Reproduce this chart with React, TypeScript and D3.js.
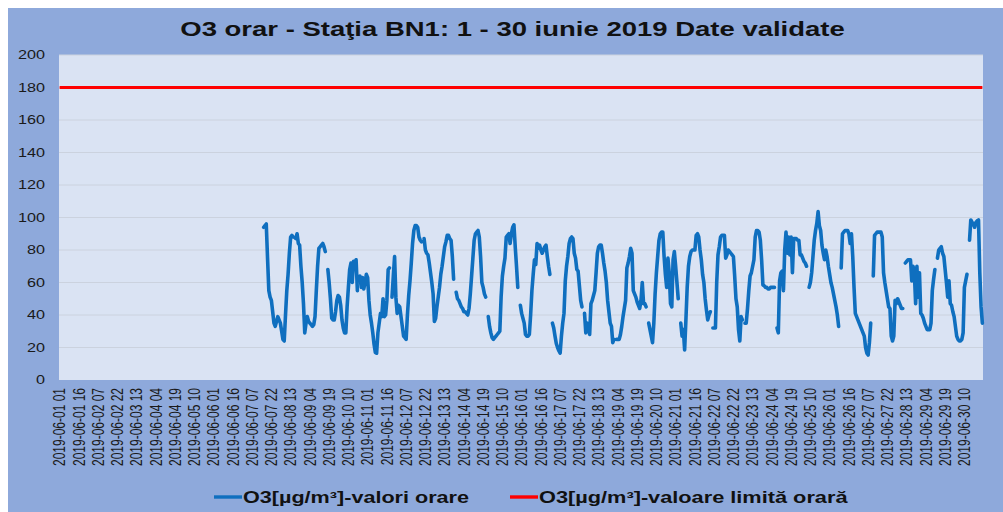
import React from "react";
import * as d3 from "d3";

const W = 1003;
const H = 512;

const TITLE = "O3 orar - Staţia BN1: 1 - 30 iunie 2019 Date validate";
const SERIES_NAME = "O3[µg/m³]-valori orare";
const LIMIT_NAME = "O3[µg/m³]-valoare limită orară";
const LIMIT_VALUE = 180;
const Y_TICKS = [0, 20, 40, 60, 80, 100, 120, 140, 160, 180, 200];
const DAYS = d3.range(1, 31);
const HOURS = d3.range(1, 25);
const LABEL_EVERY = 15;

const categories: string[] = [];
DAYS.forEach((d) =>
  HOURS.forEach((h) =>
    categories.push(`2019-06-${String(d).padStart(2, "0")} ${String(h).padStart(2, "0")}`)
  )
);

const N = null;
// hourly O3 values, one row per day (hours 01..24)
const o3Rows: (number | null)[][] = [
  [N, N, N, N, N, N, N, N, N, N, N, N, N, N, N, N, N, N, N, N, N, N, N, N],
  [N, N, N, N, N, N, N, N, N, N, N, N, N, N, N, N, N, N, N, N, N, N, N, N],
  [N, N, N, N, N, N, N, N, N, N, N, N, N, N, N, N, N, N, N, N, N, N, N, N],
  [N, N, N, N, N, N, N, N, N, N, N, N, N, N, N, N, N, N, N, N, N, N, N, N],
  [N, N, N, N, N, N, N, N, N, N, N, N, N, N, N, N, N, N, N, N, N, N, N, N],
  [N, N, N, N, N, N, N, N, N, N, N, N, N, N, N, N, N, N, N, N, N, N, N, N],
  [N, N, N, N, N, N, N, N, N, N, N, N, N, N, N, 94, 95, 96, 75, 55, 51, 49, 42, 35],
  [33, 36, 39, 37, 35, 30, 25, 24, 40, 55, 65, 78, 88, 89, 88, N, 87, 90, 84, 83, 70, 60, 47, 29],
  [35, 39, 36, 35, 34, 33, 34, 39, 55, 70, 81, 82, 83, 84, 82, 79, N, 68, 60, 50, 38, 37, 37, 42],
  [49, 52, 51, 46, 37, 32, 29, 29, 45, 57, 68, 72, 60, 73, 72, 74, 55, N, 64, 57, 63, 56, 60, 65],
  [63, 49, 40, 35, 29, 22, 17, 16.5, 29, 35, 41, 39, 50, 39, 40, 49, 68, 69, N, 51, 64, 76, 51, 41],
  [46, 45, 39, 33, 27, 26, 25, 40, 52, 61, 72, 84, 92, 95, 95, 94, 88, 86, 85, N, 87, 80, 78, 77],
  [72, 66, 60, 53, 36, 38, 45, 51, 57, 65, 70, 76, 82, 85, 89, 89, 87, 86, 76, 62, N, 54, 50, 49],
  [47, 45, 44, 42, 42, 41, 40, 44, 53, 64, 75, 86, 90, 91, 92, 88, 76, 60, 57, 53, 51, N, 39, 33],
  [29, 26, 25, 26, 27, 28, 29, 30, 51, 64, 70, 75, 88, 89, 90, 84, 90, 94, 95.5, 82, 70, 57, N, 46],
  [41, 38, 35, 28, 27, 27, 28, 40, 55, 65, 74, 71, 84, 81, 83, 80, 78, 80, 82, 83, 76, 70, 65, N],
  [35, 32, 27, 22.5, 20, 18, 16.5, 27, 35, 41, 61, 70, 76, 84, 87, 88, 87, 78, 75, 68, 67, 58, 49, 45],
  [N, 41, 29, 35, 32, 28, 47, 49, 52, 55, 66, 78, 82, 83, 83, 78, 72, 67, 60, 49, 42, 35, 33, 23],
  [25, N, 25, 25, 25, 28, 33, 39, 44, 49, 69, 72, 76, 81, 78, 55, 53, 51, 48, 46, 44, 49, 60, 47],
  [47, 45, N, 35, 31, 27, 23, 35, 53, 66, 76, 86, 90, 91, 91, 76, 65, 57, 75, 66, 47, 45, 74, 79],
  [70, 60, 50, N, 35, 27, 31, 18.5, 37, 57, 70, 76, 79, 80, 80, 80, 89, 90, 88, 80, 74, 65, 60, 50],
  [43, 37, 40, 42, N, 32, 32, 32, 60, 77, 82, 88, 89, 89, 89, 75, 77, 80, 79, 78, 77, 76, 64, 50],
  [45, 31, 24, 39, 37, N, 35, 35, 44, 55, 64, 66, 70, 74, 88, 92, 92, 91, 86, 74, 58.5, 58, 57, 57],
  [56, 56, 57, 57, 57, 57, N, 32, 29, 61, 66, 67, 55, 80, 91, 78, 88, 77, 88, 66, 87, 87, 87, 86],
  [86, 77, 77, 75, 73, 72, 70, N, 57, 60, 66, 76, 86, 92, 96.4, 103.6, 95, 92, 83, 78, 74, 80, 76, 70],
  [65, 60, 57, 53, 49, 45, 40, 33, N, 69, 90, 91, 92, 92, 92, 90, 84, 90, 76, 57, 41, 39, 37, 35],
  [33, 31, 29, 27, 20, 16.5, 15.4, 23, 35, N, 64, 89, 90, 91, 91, 91, 91, 88, 66, 60, 55, 50, 45, 44],
  [27, 24, 27, 49, 47, 50, 48, 46, 44, 44, N, 72, 73, 74, 74, 74, 61, 70, 66, 47, 70, 51, 66, 41],
  [40, 38, 35, 33, 31, 31, 31, 35, 55, 62, 68, N, 75, 80, 81, 82, 78, 76, 68, 60, 51, 61, 47, 46],
  [42, 39, 33, 27, 25, 24, 24, 25, 29, 57, 61, 65, N, 86, 98.5, 97, 96, 94, 97, 98, 98.5, 66, 45, 35],
];
const o3Values: (number | null)[] = o3Rows.flat();
const limitValues: number[] = categories.map(() => LIMIT_VALUE);

// layout
const BG = { x: 8, y: 8 };
const PLOT = { left: 59, right: 983, top: 55, bottom: 380 };
const SX = 1.35;
const FONT = "'Liberation Sans', Arial, sans-serif";
const BLUE = "#0F6FBF";

export default function App() {
  const x = d3
    .scalePoint<string>()
    .domain(categories)
    .range([PLOT.left, PLOT.right])
    .padding(0.5);
  const y = d3.scaleLinear().domain([0, 200]).range([PLOT.bottom, PLOT.top]);

  const line = d3
    .line<number | null>()
    .defined((v) => v != null)
    .x((_, i) => x(categories[i]) as number)
    .y((v) => y(v as number));

  const tickIdx = d3.range(0, categories.length, LABEL_EVERY);

  return (
    <>
      <style>{`html,body{margin:0;padding:0;overflow:hidden;background:#fff}`}</style>
      <svg width={W} height={H} style={{ display: "block" }} fontFamily={FONT}>
        <rect x={BG.x} y={BG.y} width={W - BG.x} height={H - BG.y} fill="#8EA9DB" />
        <rect
          x={PLOT.left}
          y={PLOT.top}
          width={PLOT.right - PLOT.left}
          height={PLOT.bottom - PLOT.top}
          fill="#DAE3F3"
        />
        {Y_TICKS.map((t) => (
          <g key={t}>
            {t > 0 && (
              <line
                x1={PLOT.left}
                x2={PLOT.right}
                y1={y(t)}
                y2={y(t)}
                stroke="#CBD2DE"
                strokeWidth={1}
              />
            )}
            <text
              transform={`translate(45,${y(t)}) scale(${SX},1)`}
              textAnchor="end"
              dy="0.35em"
              fontSize={12}
              fill="#1a1a1a"
            >
              {t}
            </text>
          </g>
        ))}
        {tickIdx.map((i) => (
          <text
            key={i}
            transform={`translate(${x(categories[i])},388) scale(${SX},1) rotate(-90)`}
            textAnchor="end"
            dy="0.35em"
            fontSize={12}
            fill="#1a1a1a"
          >
            {categories[i]}
          </text>
        ))}
        <path d={line(limitValues) || ""} fill="none" stroke="#FF0000" strokeWidth={3} />
        <path
          d={line(o3Values) || ""}
          fill="none"
          stroke={BLUE}
          strokeWidth={3.6}
          strokeLinejoin="round"
          strokeLinecap="round"
        />
        <text
          transform={`translate(512.5,36) scale(1.375,1)`}
          textAnchor="middle"
          fontSize={20}
          fontWeight="bold"
          fill="#111"
        >
          {TITLE}
        </text>
        <g>
          <line x1={214} x2={242} y1={497} y2={497} stroke={BLUE} strokeWidth={3.4} />
          <text
            transform={`translate(243,503) scale(${SX},1)`}
            fontSize={16}
            fontWeight="bold"
            fill="#111"
          >
            {SERIES_NAME}
          </text>
          <line x1={510} x2={538} y1={497} y2={497} stroke="#FF0000" strokeWidth={3.4} />
          <text
            transform={`translate(539,503) scale(1.36,1)`}
            fontSize={16}
            fontWeight="bold"
            fill="#111"
          >
            {LIMIT_NAME}
          </text>
        </g>
      </svg>
    </>
  );
}
